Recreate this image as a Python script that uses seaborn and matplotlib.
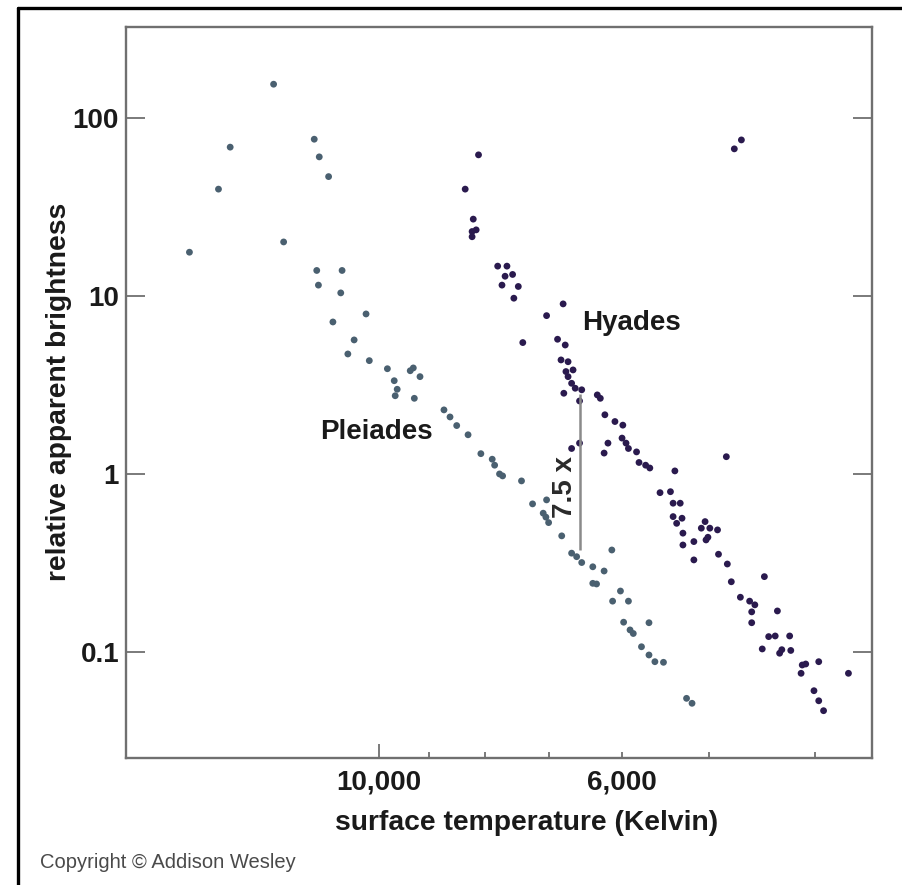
import numpy as np
import pandas as pd
import matplotlib
matplotlib.use("Agg")
import matplotlib.pyplot as plt
from matplotlib.ticker import FixedLocator, FixedFormatter, NullLocator
from matplotlib.lines import Line2D
import seaborn as sns

# ---- data (surface temperature in K, relative apparent brightness) ----
pleiades_temp = [14880, 14000, 13660, 12470, 11450, 11330, 11110, 12210, 11390, 10800,
                 11350, 10830, 10270, 11010, 10530, 10670, 10200, 9820, 9360, 9300,
                 9170, 9680, 9620, 9660, 9280, 8720, 8610, 8490, 8290, 8070,
                 7880, 7840, 7760, 7710, 7410, 7240, 7030, 7080, 7040, 7000,
                 6810, 6670, 6600, 6530, 6380, 6230, 6380, 6330, 6130, 6020,
                 6120, 5920, 5980, 5900, 5860, 5670, 5760, 5670, 5600, 5500,
                 5240, 5180]
pleiades_bright = [17.6, 39.8, 68.5, 154.6, 75.9, 60.4, 46.8, 20.1, 13.9, 13.9,
                   11.5, 10.4, 7.92, 7.14, 5.66, 4.72, 4.33, 3.90, 3.80, 3.94,
                   3.52, 3.34, 2.99, 2.75, 2.66, 2.29, 2.09, 1.87, 1.66, 1.30,
                   1.21, 1.12, 1.00, 0.975, 0.914, 0.679, 0.715, 0.602, 0.572, 0.533,
                   0.449, 0.359, 0.343, 0.318, 0.301, 0.285, 0.243, 0.241, 0.374, 0.220,
                   0.193, 0.193, 0.147, 0.133, 0.127, 0.146, 0.107, 0.0962, 0.0882, 0.0875,
                   0.0549, 0.0515]

hyades_temp = [8110, 8340, 8200, 8220, 8150, 8220, 7790, 7640, 7670, 7550,
               7720, 7460, 7530, 6790, 7030, 7390, 6870, 6760, 6820, 6720,
               6750, 6650, 6720, 6670, 6620, 6780, 6530, 6560, 6320, 6280,
               6220, 6090, 5990, 6000, 5950, 5920, 5820, 6180, 6230, 6560,
               6670, 5790, 5710, 5660, 5370, 4820, 5540, 5420, 5390, 5310,
               5390, 5290, 5350, 5280, 5280, 5160, 5160, 5040, 5080, 4990,
               4910, 5010, 5030, 4900, 4810, 4770, 4450, 4680, 4590, 4540,
               4570, 4570, 4330, 4410, 4350, 4220, 4470, 4310, 4290, 4210,
               4110, 4080, 4120, 3970, 3730, 4010, 3970, 3930, 4740, 4670]
hyades_bright = [62.0, 39.8, 27.0, 23.0, 23.5, 21.5, 14.7, 14.7, 12.9, 13.2,
                 11.5, 11.3, 9.71, 9.02, 7.75, 5.47, 5.71, 5.30, 4.37, 4.27,
                 3.76, 3.84, 3.52, 3.23, 3.03, 2.84, 2.97, 2.57, 2.78, 2.66,
                 2.15, 1.97, 1.88, 1.59, 1.49, 1.39, 1.33, 1.49, 1.31, 1.49,
                 1.39, 1.16, 1.12, 1.08, 1.04, 1.25, 0.785, 0.795, 0.685, 0.685,
                 0.576, 0.564, 0.528, 0.465, 0.399, 0.417, 0.329, 0.540, 0.496, 0.496,
                 0.485, 0.441, 0.426, 0.354, 0.312, 0.248, 0.265, 0.203, 0.193, 0.184,
                 0.168, 0.146, 0.170, 0.122, 0.123, 0.123, 0.104, 0.0984, 0.103, 0.102,
                 0.0845, 0.0856, 0.0759, 0.0882, 0.0759, 0.0606, 0.0532, 0.0468, 67.0, 75.2]

cluster_names = ["Pleiades", "Hyades"]

y_ticks = [100, 10, 1, 0.1]
y_tick_labels = ["100", "10", "1", "0.1"]
x_major_ticks = [10000]
x_major_labels = ["10,000"]
x_minor_ticks = [9000, 8000, 7000, 6000, 5000, 4000]
x_minor_labels = ["", "", "", "6,000", "", ""]

gap_temp = 6560
gap_top = 2.8
gap_bottom = 0.373
gap_label = "7.5 x"

# ---- build table ----
df = pd.DataFrame({
    "temperature": pleiades_temp + hyades_temp,
    "brightness": pleiades_bright + hyades_bright,
    "cluster": [cluster_names[0]] * len(pleiades_temp) + [cluster_names[1]] * len(hyades_temp),
})

sns.set_style("white")
plt.rcParams['font.family'] = ['Liberation Sans', 'DejaVu Sans']

W, H = 903, 885
fig = plt.figure(figsize=(W / 100, H / 100), dpi=100)
ax = fig.add_axes([126 / W, 1 - 758 / H, (872 - 126) / W, (758 - 27) / H])

palette = {"Pleiades": "#4a6070", "Hyades": "#2a1a4e"}
sns.scatterplot(data=df, x="temperature", y="brightness", hue="cluster",
                palette=palette, s=24, edgecolor="none", legend=False, ax=ax)

ax.set_xscale("log")
ax.set_yscale("log")
ax.set_xlim(17000, 3550)
ax.set_ylim(0.02538, 324)

spine_col = "#707070"
for side, sp in ax.spines.items():
    sp.set_color(spine_col)
    sp.set_linewidth(1.7)

# y ticks
ax.yaxis.set_major_locator(FixedLocator(y_ticks))
ax.yaxis.set_major_formatter(FixedFormatter(y_tick_labels))
ax.yaxis.set_minor_locator(NullLocator())
ax.tick_params(axis="y", which="major", direction="in", length=14, width=1.3,
               color=spine_col, left=True, right=True, labelleft=True,
               labelsize=20, pad=5, labelcolor="#1a1a1a")
# x ticks
ax.xaxis.set_major_locator(FixedLocator(x_major_ticks))
ax.xaxis.set_major_formatter(FixedFormatter(x_major_labels))
ax.xaxis.set_minor_locator(FixedLocator(x_minor_ticks))
ax.xaxis.set_minor_formatter(FixedFormatter(x_minor_labels))
ax.tick_params(axis="x", which="major", direction="in", length=10, width=1.3,
               color=spine_col, bottom=True, top=False, labelsize=20, pad=8,
               labelcolor="#1a1a1a")
ax.tick_params(axis="x", which="minor", direction="in", length=4.5, width=1.3,
               color=spine_col, bottom=True, top=False, labelsize=20, pad=8,
               labelcolor="#1a1a1a")

for lab in ax.get_xticklabels(which="both") + ax.get_yticklabels():
    lab.set_fontweight("bold")

ax.set_xlabel("")
ax.set_ylabel("")

# annotation: gap between the two main sequences
ax.vlines(gap_temp, gap_bottom, gap_top, color="#8a8a8a", linewidth=1.8)
ax.text(6760, 0.845, gap_label, rotation=90, ha="center", va="center",
        fontsize=20, fontweight="bold", color="#2a2a2a")

ax.text(6525, 7.05, "Hyades", ha="left", va="center",
        fontsize=20, fontweight="bold", color="#1a1a1a")
ax.text(11310, 1.72, "Pleiades", ha="left", va="center",
        fontsize=20, fontweight="bold", color="#1a1a1a")

# axis titles
fig.text(527 / W, 1 - 823 / H, "surface temperature (Kelvin)", ha="center", va="center",
         fontsize=20.3, fontweight="bold", color="#1a1a1a")
fig.text(59 / W, 1 - 392 / H, "relative apparent brightness", ha="center", va="center",
         rotation=90, fontsize=20.3, fontweight="bold", color="#1a1a1a")

fig.text(40 / W, 1 - 863 / H, "Copyright \u00a9 Addison Wesley", ha="left", va="center",
         fontsize=14.5, color="#4a4a4a")

# outer frame lines (left and top)
fig.add_artist(Line2D([18 / W, 18 / W], [0, 1 - 8 / H], transform=fig.transFigure,
                      color="black", linewidth=2.4))
fig.add_artist(Line2D([18 / W, 1], [1 - 8 / H, 1 - 8 / H], transform=fig.transFigure,
                      color="black", linewidth=2.4))

fig.savefig("out.png", dpi=100, facecolor="white")
